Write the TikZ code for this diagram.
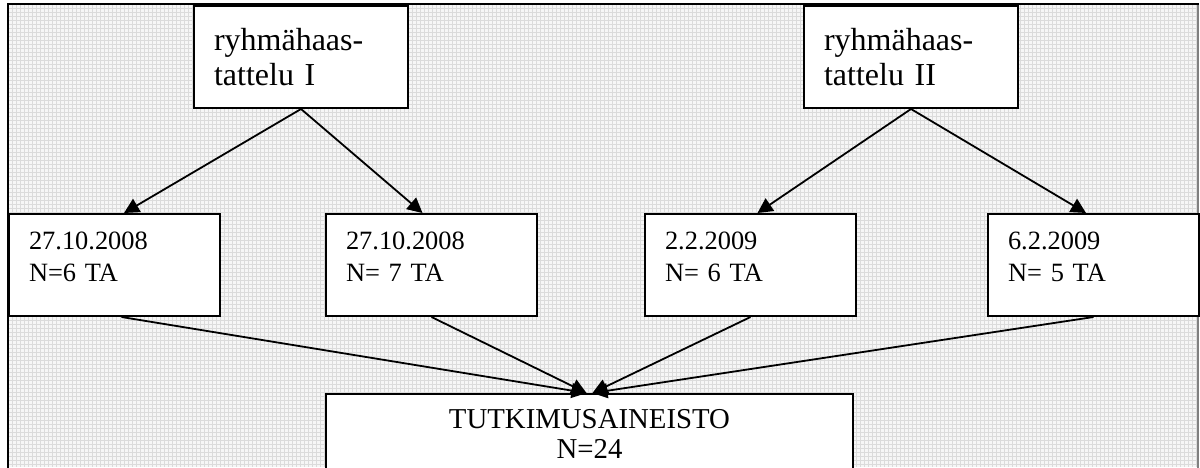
\documentclass[tikz,border=0pt]{standalone}
\usepackage{fontspec}
\setmainfont{Liberation Serif}
\usetikzlibrary{arrows.meta}
\tikzset{
  box/.style={draw, line width=1pt, fill=white, align=left, inner xsep=10pt, inner ysep=0pt},
  topbox/.style={box, anchor=north west, text width=87pt, minimum height=51pt,
    font=\fontsize{16}{17.5}\selectfont},
  datebox/.style={box, anchor=north west, text width=85.5pt, minimum height=51pt,
    font=\fontsize{13.2}{16}\selectfont, execute at end node={\par\vspace*{8pt}}},
  totalbox/.style={box, anchor=north, align=center, text width=243.5pt, inner ysep=7.5pt,
    font=\fontsize{14.4}{15}\selectfont, execute at end node={\par\vspace*{10pt}}}
}
\begin{document}
\begin{tikzpicture}[x=0.5pt, y=-0.5pt]
      \useasboundingbox (0,0) rectangle (1200,467);
      % background and frame
      \fill[gray!7] (8,4) rectangle (1199,467);
      \draw[gray!28, line width=0.35pt, step=2pt] (8,4) grid (1199,467);
      \draw[gray, line width=0.6pt] (1198,4) -- (1198,480);
      \draw[line width=1.2pt] (8,480) -- (8,4) -- (1199,4);
      % boxes
      \node[topbox] (hI) at (193,5) {ryhmähaas-\\tattelu I};
      \node[topbox] (hII) at (803,5) {ryhmähaas-\\tattelu II};
      \node[datebox] (d1) at (8,213) {27.10.2008\\N=6 TA};
      \node[datebox] (d2) at (325,213) {27.10.2008\\N= 7 TA};
      \node[datebox] (d3) at (644,213) {2.2.2009\\N= 6 TA};
      \node[datebox] (d4) at (987,213) {6.2.2009\\N= 5 TA};
      \node[totalbox] (all) at (589.5,393) {TUTKIMUSAINEISTO\\N=24};
      \begin{scope}[-{Triangle[length=7.5pt,width=7.5pt]}, line width=0.9pt]
        \draw (hI.south) to ([shift={(9.5,0)}]d1.north);
        \draw (hI.south) to ([shift={(-9,0)}]d2.north);
        \draw (hII.south) to ([shift={(7,0)}]d3.north);
        \draw (hII.south) to ([shift={(-7.5,0)}]d4.north);
        \draw ([shift={(7,0)}]d1.south) to ([shift={(-3,0)}]all.north);
        \draw (d2.south) to ([shift={(-3,0)}]all.north);
        \draw (d3.south) to ([shift={(3,0)}]all.north);
        \draw (d4.south) to ([shift={(3,0)}]all.north);
      \end{scope}
    \end{tikzpicture}
\end{document}
